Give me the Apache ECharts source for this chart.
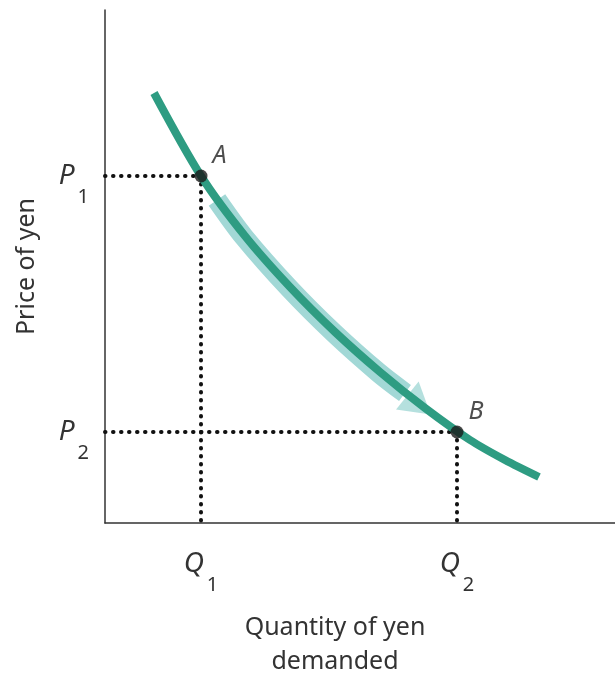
<!DOCTYPE html>
<html>
<head>
<meta charset="utf-8">
<script src="https://cdn.jsdelivr.net/npm/echarts@6/dist/echarts.min.js"></script>
<style>
  html, body { margin: 0; padding: 0; background: #fff; }
  #chart { width: 615px; height: 680px; }
</style>
</head>
<body>
<div id="chart"></div>
<script>
// demand curve for yen (arbitrary units, axis 0..510 x 0..513)
const curveX = [49, 96, 140, 185, 230, 275, 320, 365, 400, 434];
const curveY = [430, 347, 287, 236, 191, 151, 115, 83, 63, 46];

// light movement arrow along the curve, from A toward B
const arrowX = [112, 139, 184, 229, 274, 300];
const arrowY = [323, 286, 235, 190, 150, 130];
const arrowTip = [314, 118];

const pointNames = ['A', 'B'];
const pointX = [96, 352];
const pointY = [347, 91];

const priceTicks = [347, 91];
const priceSubs = ['1', '2'];
const qtyTicks = [96, 352];
const qtySubs = ['1', '2'];

const TEAL = '#2e9c82';
const LIGHT = '#a2d8d6';
const INK = '#333';
const FONT = 'Noto Sans';

const chart = echarts.init(document.getElementById('chart'));

const tickRich = {
  v: { fontSize: 28, fontStyle: 'italic', color: INK, fontFamily: FONT },
  s: { fontSize: 20, color: INK, fontFamily: FONT, padding: [42, 0, 0, 3] }
};

const dotted = { color: '#111', width: 4, type: [0.5, 7.5], cap: 'round' };

chart.setOption({
  animation: false,
  grid: { left: 105, right: 0, top: 10, bottom: 157, outerBoundsMode: 'none' },
  xAxis: {
    type: 'value',
    min: 0,
    max: 510,
    name: 'Quantity of yen\ndemanded',
    nameLocation: 'middle',
    nameGap: 88,
    nameTextStyle: { fontSize: 25, color: INK, fontFamily: FONT, lineHeight: 34, padding: [0, 50, 0, 0] },
    axisLine: { lineStyle: { color: INK, width: 1.5 } },
    axisTick: { show: false },
    splitLine: { show: false },
    axisLabel: {
      customValues: qtyTicks,
      margin: 10,
      formatter: v => '{v|Q}{s|' + qtySubs[qtyTicks.indexOf(v)] + '}',
      rich: tickRich
    }
  },
  yAxis: {
    type: 'value',
    min: 0,
    max: 513,
    name: 'Price of yen',
    nameLocation: 'middle',
    nameGap: 66,
    nameRotate: 90,
    nameTextStyle: { fontSize: 25, color: INK, fontFamily: FONT },
    axisLine: { lineStyle: { color: INK, width: 1.5 } },
    axisTick: { show: false },
    splitLine: { show: false },
    axisLabel: {
      customValues: priceTicks,
      margin: 16,
      formatter: v => '{v|P}{s|' + priceSubs[priceTicks.indexOf(v)] + '}',
      rich: tickRich
    }
  },
  series: [
    {
      type: 'line',
      data: [[0, pointY[0]], [pointX[0], pointY[0]], [pointX[0], 0]],
      symbol: 'none',
      lineStyle: dotted,
      z: 1
    },
    {
      type: 'line',
      data: [[0, pointY[1]], [pointX[1], pointY[1]], [pointX[1], 0]],
      symbol: 'none',
      lineStyle: dotted,
      z: 1
    },
    {
      type: 'line',
      data: arrowX.map((x, i) => [x, arrowY[i]]),
      smooth: 0.3,
      symbol: 'none',
      lineStyle: { color: LIGHT, width: 20 },
      z: 2
    },
    {
      type: 'scatter',
      data: [arrowTip],
      symbol: 'triangle',
      symbolSize: [36, 30],
      symbolRotate: -129,
      itemStyle: { color: LIGHT },
      z: 2
    },
    {
      type: 'line',
      data: curveX.map((x, i) => [x, curveY[i]]),
      smooth: 0.3,
      symbol: 'none',
      lineStyle: { color: TEAL, width: 8 },
      z: 3
    },
    {
      type: 'scatter',
      data: pointX.map((x, i) => ({ value: [x, pointY[i]], name: pointNames[i] })),
      symbolSize: 13,
      itemStyle: { color: '#1a1a1a' },
      label: {
        show: true,
        formatter: '{b}',
        position: 'right',
        offset: [0, -20],
        fontSize: 25,
        fontStyle: 'italic',
        color: '#222',
        fontFamily: FONT
      },
      z: 4
    }
  ]
});
</script>
</body>
</html>
